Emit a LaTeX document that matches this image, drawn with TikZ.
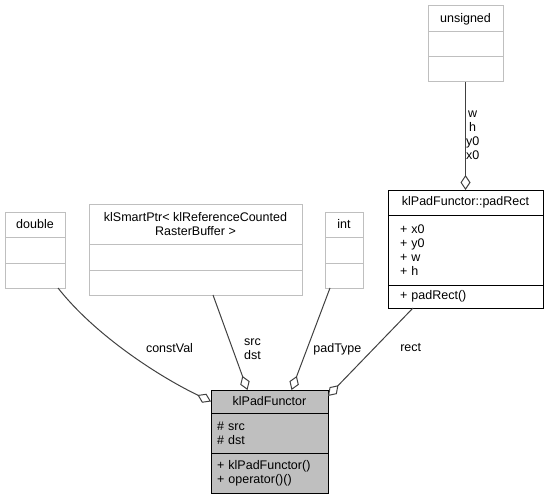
\documentclass[tikz,border=0pt]{standalone}
\usepackage{fontspec}
\setmainfont{Liberation Sans}
\usepackage{tikz}
\usetikzlibrary{positioning,arrows.meta}

\definecolor{edgegray}{HTML}{404040}
\definecolor{boxgray}{HTML}{BFBFBF}

\begin{document}
\begin{tikzpicture}[x=1pt, y=-1pt,
  every node/.style={font=\fontsize{12.5}{14}\selectfont},
  part/.style={rectangle, draw=boxgray, fill=white, line width=1pt, outer sep=0pt, inner ysep=0pt, inner xsep=6pt, align=center},
  members/.style={part, align=left, text width=#1},
  conn/.style={draw=edgegray, line width=1pt, -{Diamond[open, length=15pt, width=10pt]}},
  lbl/.style={inner sep=0pt, align=center}]
\useasboundingbox (0,0) rectangle (549,500);

% unsigned
\node[part, minimum width=75pt, minimum height=26pt, anchor=north] (unsigned) at (465.5,6) {unsigned};
\node[part, minimum width=75pt, minimum height=25pt, below=0pt of unsigned] (unsigned-a) {};
\node[part, minimum width=75pt, minimum height=25pt, below=0pt of unsigned-a] (unsigned-m) {};

% klPadFunctor::padRect
\node[part, draw=black, minimum width=155pt, minimum height=25pt, anchor=north] (padrect) at (465.5,190) {klPadFunctor::padRect};
\node[members=131pt, draw=black, inner xsep=12pt, minimum height=70pt, below=0pt of padrect] (padrect-a) {+ x0\\+ y0\\+ w\\+ h};
\node[members=131pt, draw=black, inner xsep=12pt, minimum height=23pt, below=0pt of padrect-a] (padrect-m) {+ padRect()};

% double
\node[part, minimum width=60pt, minimum height=25pt, anchor=north] (double) at (35,212) {double};
\node[part, minimum width=60pt, minimum height=26pt, below=0pt of double] (double-a) {};
\node[part, minimum width=60pt, minimum height=25pt, below=0pt of double-a] (double-m) {};

% klSmartPtr
\node[part, minimum width=213pt, minimum height=40pt, anchor=north] (smartptr) at (195.5,204) {klSmartPtr< klReferenceCounted\\RasterBuffer >};
\node[part, minimum width=213pt, minimum height=26pt, below=0pt of smartptr] (smartptr-a) {};
\node[part, minimum width=213pt, minimum height=25pt, below=0pt of smartptr-a] (smartptr-m) {};

% int
\node[part, minimum width=38pt, minimum height=25pt, anchor=north] (int) at (344,212) {int};
\node[part, minimum width=38pt, minimum height=26pt, below=0pt of int] (int-a) {};
\node[part, minimum width=38pt, minimum height=25pt, below=0pt of int-a] (int-m) {};

% klPadFunctor
\node[part, draw=black, fill=boxgray, minimum width=117pt, minimum height=23pt, anchor=north] (functor) at (269.5,390) {klPadFunctor};
\node[members=105pt, draw=black, fill=boxgray, minimum height=40pt, below=0pt of functor] (functor-a) {\# src\\\# dst};
\node[members=105pt, draw=black, fill=boxgray, minimum height=40pt, below=0pt of functor-a] (functor-m) {+ klPadFunctor()\\+ operator()()};

\draw[conn] ([xshift=23pt]double-m.south) .. controls (95,335) and (158,376) .. (functor.west)
  node (lconst) [lbl, pos=0.5, anchor=west, xshift=17pt, yshift=5pt] {constVal};
\path
  ([xshift=17.5pt]smartptr-m.south) edge[conn] node (lsrc) [lbl, pos=0.57, right=11pt] {src\\dst} ([xshift=-22pt]functor.north)
  ([xshift=-14pt]int-m.south) edge[conn] node (ltype) [lbl, pos=0.6, right=6pt] {padType} ([xshift=22pt]functor.north)
  ([xshift=-52.5pt]padrect-m.south) edge[conn] node (lrect) [lbl, pos=0.45, right=25pt] {rect} ([yshift=-6pt]functor.north east)
  (unsigned-m) edge[conn] node (lxy) [lbl, pos=0.49, right=0pt] {w\\h\\y0\\x0} (padrect);
\end{tikzpicture}
\end{document}
